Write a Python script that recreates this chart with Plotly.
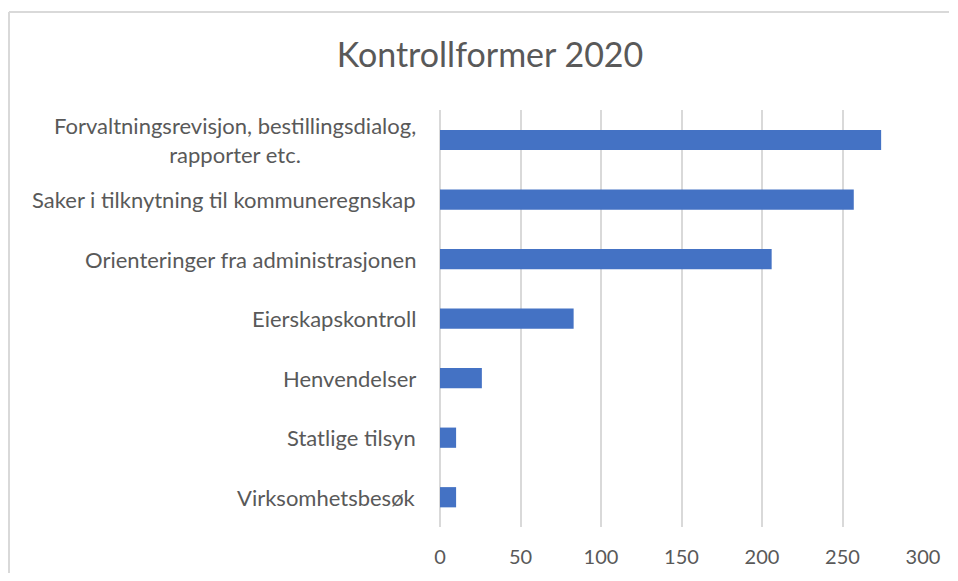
import plotly.graph_objects as go

categories = [
    "Forvaltningsrevisjon, bestillingsdialog,<br>rapporter etc.",
    "Saker i tilknytning til kommuneregnskap",
    "Orienteringer fra administrasjonen",
    "Eierskapskontroll",
    "Henvendelser",
    "Statlige tilsyn",
    "Virksomhetsbesøk",
]
values = [274, 257, 206, 83, 26, 10, 10]
x_ticks = [0, 50, 100, 150, 200, 250, 300]
title_text = "Kontrollformer 2020"

FONT = "Lato"
GRAY = "#595959"

# page body has an 8px default margin; figure coordinates are offset by it
OFF = 8
W, H = 942, 565
L, T = 440 - OFF, 110 - OFF
PW, PH = 483, 417
R = W - L - PW
B = H - T - PH

fig = go.Figure()
fig.add_trace(go.Bar(
    x=values,
    y=categories,
    orientation="h",
    marker=dict(color="#4472C4", line=dict(width=0)),
    hoverinfo="x+y",
))

annotations = []
for c in categories:
    annotations.append(dict(
        x=0, xref="paper", y=c, yref="y",
        text=c, showarrow=False, xanchor="right", yanchor="middle",
        align="center", xshift=-22,
        font=dict(family=FONT, size=22, color=GRAY),
    ))

bx = (1 - L) / PW
by = 1 + (T - 4) / PH
fig.update_layout(
    width=W, height=H,
    margin=dict(l=L, r=R, t=T, b=B, autoexpand=False),
    paper_bgcolor="white", plot_bgcolor="white",
    bargap=0.66,
    showlegend=False,
    title=dict(text=title_text, x=(490 - OFF) / W, xanchor="center", y=1 - (55 - OFF) / H, yanchor="middle",
               font=dict(family=FONT, size=34, color=GRAY)),
    xaxis=dict(range=[0, 300], tickvals=x_ticks, showgrid=True, gridcolor="#d9d9d9", gridwidth=1.5,
               zeroline=True, zerolinecolor="#d9d9d9", zerolinewidth=1.5,
               showline=False, ticks="", ticklabelstandoff=16, automargin=False,
               tickfont=dict(family=FONT, size=20, color=GRAY), fixedrange=True),
    yaxis=dict(autorange="reversed", showticklabels=False, showgrid=False, zeroline=False,
               showline=False, ticks="", fixedrange=True, automargin=False),
    annotations=annotations,
    shapes=[
        dict(type="line", xref="paper", yref="paper", x0=bx, x1=(W - 1 - L) / PW, y0=by, y1=by,
             line=dict(color="#d9d9d9", width=2), layer="below"),
        dict(type="line", xref="paper", yref="paper", x0=bx, x1=bx, y0=by, y1=1 - (H + 20 - T) / PH,
             line=dict(color="#d9d9d9", width=2), layer="below"),
    ],
)

fig.write_html("out.html")
